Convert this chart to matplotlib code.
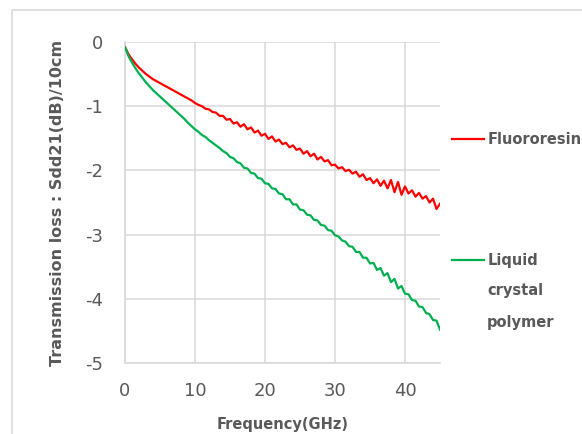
import numpy as np
import matplotlib
matplotlib.use("Agg")
from matplotlib import pyplot as plt
from matplotlib.patches import Rectangle

plt.rcParams['axes.unicode_minus'] = False
plt.rcParams['font.family'] = ['DejaVu Sans']

# frequency points (GHz), 0.5 GHz step
freq = np.arange(0, 45.01, 0.5)

# Fluororesin, Sdd21 (dB) per 10 cm
fluororesin = [
    -0.08, -0.19, -0.27, -0.34, -0.40, -0.45, -0.50, -0.54, -0.58, -0.61,
    -0.64, -0.67, -0.70, -0.73, -0.76, -0.79, -0.82, -0.85, -0.88, -0.91,
    -0.95, -0.98, -1.00, -1.04, -1.05, -1.09, -1.10, -1.15, -1.15, -1.21,
    -1.20, -1.27, -1.25, -1.32, -1.28, -1.36, -1.33, -1.41, -1.38, -1.46,
    -1.43, -1.51, -1.47, -1.55, -1.52, -1.59, -1.57, -1.64, -1.61, -1.68,
    -1.66, -1.74, -1.70, -1.78, -1.74, -1.83, -1.79, -1.86, -1.84, -1.92,
    -1.91, -1.97, -1.95, -2.01, -1.99, -2.05, -2.02, -2.10, -2.06, -2.15,
    -2.12, -2.20, -2.14, -2.24, -2.16, -2.28, -2.15, -2.34, -2.18, -2.38,
    -2.25, -2.36, -2.31, -2.41, -2.35, -2.44, -2.40, -2.50, -2.44, -2.60,
    -2.52,
]

# Liquid crystal polymer
lcp = [
    -0.08, -0.22, -0.32, -0.41, -0.49, -0.56, -0.63, -0.69, -0.75, -0.80,
    -0.85, -0.90, -0.95, -1.00, -1.05, -1.10, -1.15, -1.20, -1.26, -1.31,
    -1.36, -1.40, -1.45, -1.48, -1.53, -1.57, -1.61, -1.65, -1.70, -1.73,
    -1.79, -1.81, -1.87, -1.89, -1.96, -1.97, -2.04, -2.05, -2.12, -2.13,
    -2.20, -2.21, -2.28, -2.29, -2.36, -2.37, -2.45, -2.45, -2.53, -2.53,
    -2.61, -2.62, -2.69, -2.70, -2.77, -2.78, -2.85, -2.86, -2.93, -2.94,
    -3.01, -3.03, -3.09, -3.11, -3.18, -3.19, -3.27, -3.27, -3.36, -3.36,
    -3.45, -3.44, -3.55, -3.52, -3.64, -3.60, -3.74, -3.69, -3.84, -3.80,
    -3.92, -3.93, -4.02, -4.03, -4.12, -4.13, -4.22, -4.24, -4.33, -4.34,
    -4.48,
]

x_ticks = [0, 10, 20, 30, 40]
y_ticks = [0, -1, -2, -3, -4, -5]

grey = '#595959'
grid_c = '#d9d9d9'

fig = plt.figure(figsize=(5.82, 4.34), dpi=100)
fig.patch.set_facecolor('white')
# light outer chart border (cut off at right and bottom)
fig.add_artist(Rectangle((12 / 582, -0.1), 1.2, 1 - 10 / 434 + 0.1,
                         transform=fig.transFigure, fill=False,
                         edgecolor=grid_c, linewidth=1.2))

ax = fig.add_axes([125 / 582, 1 - 363 / 434, 315 / 582, 321 / 434])
ax.plot(freq, fluororesin, color='#ff0000', linewidth=1.6, label='Fluororesin', zorder=3)
ax.plot(freq, lcp, color='#00b050', linewidth=1.6, label='Liquid', zorder=3)

ax.set_xlim(0, 45)
ax.set_ylim(-5, 0)
ax.set_xticks(x_ticks)
ax.set_yticks(y_ticks)
ax.grid(True, color=grid_c, linewidth=1.1)
ax.set_axisbelow(True)
for s in ['top', 'right']:
    ax.spines[s].set_visible(False)
for s in ['left', 'bottom']:
    ax.spines[s].set_color(grid_c)
    ax.spines[s].set_linewidth(1.2)
ax.tick_params(length=0, labelsize=13, labelcolor=grey)
ax.tick_params(axis='x', pad=14)
ax.tick_params(axis='y', pad=16)

ax.set_xlabel('Frequency(GHz)', fontsize=10.5, fontweight='bold', color=grey, labelpad=12)
ax.set_ylabel('Transmission loss : Sdd21(dB)/10cm', fontsize=11.5, fontweight='bold',
              color=grey, labelpad=14)

leg = ax.legend(loc='upper left', bbox_to_anchor=(1.02, 0.739), frameon=False,
                fontsize=10.5, handlelength=2.2, handletextpad=0.2,
                labelspacing=7.3, borderaxespad=0)
for t in leg.get_texts():
    t.set_color(grey)
    t.set_fontweight('bold')

# rest of the wrapped "Liquid crystal polymer" legend label
fig.text(487 / 582, 1 - 291 / 434, 'crystal', fontsize=10.5, fontweight='bold',
         color=grey, va='center')
fig.text(487 / 582, 1 - 323 / 434, 'polymer', fontsize=10.5, fontweight='bold',
         color=grey, va='center')

fig.savefig('out.png', dpi=100)
